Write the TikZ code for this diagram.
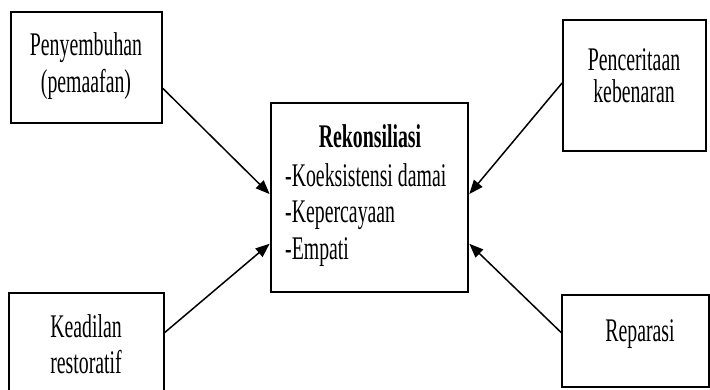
\documentclass[tikz,border=0pt]{standalone}
\usepackage{fontspec}
\setmainfont{Liberation Serif}
\newfontfamily\condfont[FakeStretch=0.60]{Liberation Serif}
\usetikzlibrary{arrows.meta,calc}
\tikzset{
  box/.style={draw=black, line width=1.6pt, rectangle, inner sep=0pt},
  txt/.style={inner sep=0pt, font=\condfont\fontsize{33}{37}\selectfont},
  conn/.style={line width=1.5pt, -{Triangle[length=14pt,width=11pt]}, shorten >=0.8pt}
}
\begin{document}
\begin{tikzpicture}[x=1pt,y=-1pt]
\useasboundingbox (0,0) rectangle (710,389);
% boxes
\node[box, minimum width=151pt, minimum height=111pt] (tl) at (86.5,67.5) {};
\node[box, minimum width=155pt, minimum height=99pt] (bl) at (86.5,342.5) {};
\node[box, minimum width=143pt, minimum height=131pt] (tr) at (634.5,85.5) {};
\node[box, minimum width=147pt, minimum height=92pt] (br) at (635.5,341) {};
\node[box, minimum width=197pt, minimum height=189pt] (c) at (369.5,197.5) {};
% texts
\node[txt, anchor=base] (tl1) at (86,55) {Penyembuhan};
\node[txt, anchor=base] (tl2) at (86,92) {(pemaafan)};
\node[txt, anchor=base] (bl1) at (86,337) {Keadilan};
\node[txt, anchor=base] (bl2) at (86,373) {restoratif};
\node[txt, anchor=base] (tr1) at (634,70) {Penceritaan};
\node[txt, anchor=base] (tr2) at (634,102) {kebenaran};
\node[txt, anchor=base] (br1) at (640,341) {Reparasi};
\node[txt, anchor=base, font=\condfont\bfseries\fontsize{33}{37}\selectfont] (c0) at (370,147) {Rekonsiliasi};
\node[txt, anchor=base west] (c1) at (285,186) {-Koeksistensi damai};
\node[txt, anchor=base west] (c2) at (285,222) {-Kepercayaan};
\node[txt, anchor=base west] (c3) at (285,259) {-Empati};
% connector end points on box borders
\coordinate (s1) at ($(tl.north east)!0.685!(tl.south east)$);
\coordinate (s2) at ($(bl.north east)!0.40!(bl.south east)$);
\coordinate (s3) at ($(tr.north west)!0.48!(tr.south west)$);
\coordinate (s4) at ($(br.north west)!0.41!(br.south west)$);
\coordinate (e1) at ($(c.north west)!0.485!(c.south west)$);
\coordinate (e2) at ($(c.north west)!0.74!(c.south west)$);
\coordinate (e3) at ($(c.north east)!0.485!(c.south east)$);
\coordinate (e4) at ($(c.north east)!0.74!(c.south east)$);
\draw[conn] (s1) -- (e1);
\draw[conn] (s2) -- (e2);
\draw[conn] (s3) -- (e3);
\draw[conn] (s4) -- (e4);
\end{tikzpicture}
\end{document}
